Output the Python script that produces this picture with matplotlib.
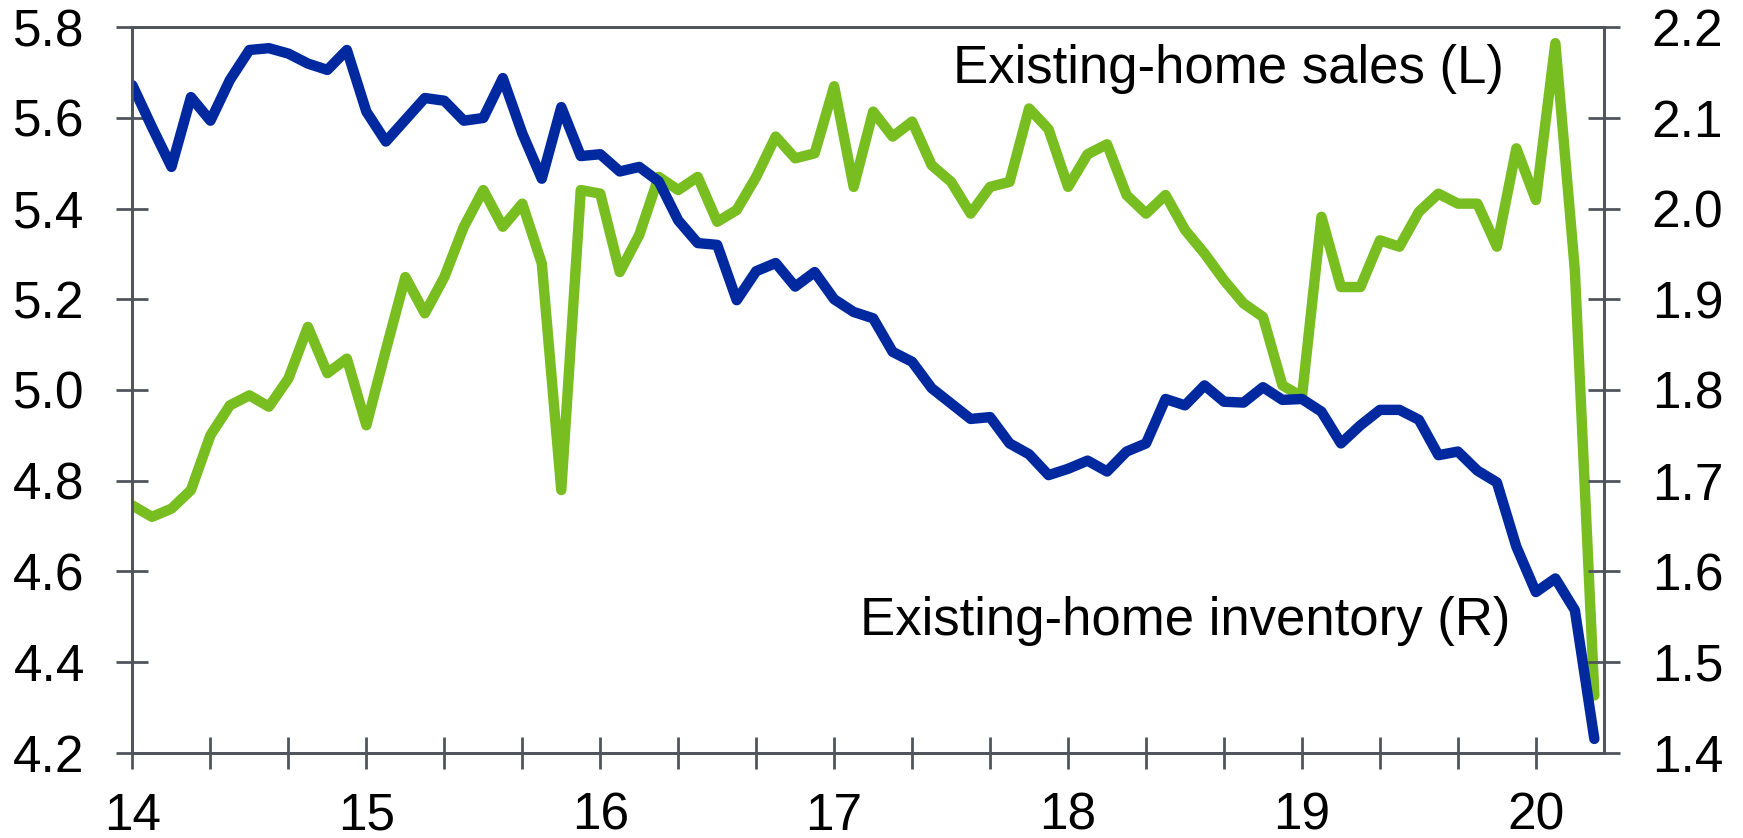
import numpy as np
import matplotlib
matplotlib.use("Agg")
import matplotlib.pyplot as plt

# monthly data, Jan 2014 .. Apr 2020
sales = [4.745, 4.72, 4.738, 4.779, 4.90, 4.966, 4.988, 4.963, 5.025, 5.139, 5.037, 5.069,
         4.922, 5.088, 5.249, 5.169, 5.249, 5.36, 5.441, 5.36, 5.411, 5.279, 4.779, 5.441,
         5.433, 5.26, 5.342, 5.47, 5.441, 5.47, 5.371, 5.397, 5.47, 5.559, 5.511, 5.522,
         5.670, 5.448, 5.614, 5.559, 5.592, 5.496, 5.459, 5.389, 5.448, 5.459, 5.621, 5.575,
         5.448, 5.52, 5.542, 5.43, 5.389, 5.43, 5.353, 5.301, 5.242, 5.191, 5.161, 5.01,
         4.985, 5.382, 5.227, 5.227, 5.33, 5.316, 5.393, 5.433, 5.411, 5.411, 5.316, 5.533,
         5.419, 5.765, 5.264, 4.326]
inventory = [2.136, 2.09, 2.046, 2.123, 2.097, 2.142, 2.175, 2.177, 2.171, 2.160, 2.153, 2.175,
             2.107, 2.074, 2.098, 2.122, 2.119, 2.097, 2.100, 2.144, 2.083, 2.033, 2.112, 2.058,
             2.060, 2.041, 2.046, 2.030, 1.987, 1.962, 1.960, 1.899, 1.931, 1.940, 1.914, 1.930,
             1.900, 1.886, 1.879, 1.842, 1.831, 1.802, 1.785, 1.768, 1.770, 1.741, 1.729, 1.706,
             1.713, 1.722, 1.710, 1.732, 1.741, 1.790, 1.783, 1.805, 1.787, 1.786, 1.803, 1.789,
             1.790, 1.776, 1.741, 1.761, 1.778, 1.778, 1.767, 1.728, 1.732, 1.711, 1.698, 1.627,
             1.577, 1.592, 1.557, 1.415]
year_labels = ['14', '15', '16', '17', '18', '19', '20']
left_ticks = [4.2, 4.4, 4.6, 4.8, 5.0, 5.2, 5.4, 5.6, 5.8]
right_ticks = [1.4, 1.5, 1.6, 1.7, 1.8, 1.9, 2.0, 2.1, 2.2]

GREEN = '#78be21'
BLUE = '#0029a0'
AXCOL = '#50555b'

plt.rcParams['font.family'] = ['Liberation Sans', 'DejaVu Sans']
plt.rcParams['font.size'] = 37

months = np.arange(len(sales))

fig = plt.figure(figsize=(17.43, 8.38), dpi=100)
ax = fig.add_axes([0.0760, 0.102, 0.8443, 0.8654])
ax2 = ax.twinx()

ax.plot(months, sales, color=GREEN, lw=7.5, solid_joinstyle='round', solid_capstyle='round')
ax2.plot(months, inventory, color=BLUE, lw=7.5, solid_joinstyle='round', solid_capstyle='round')

ax.set_xlim(0, 75.5)
ax.set_ylim(4.2, 5.8)
ax2.set_ylim(1.4, 2.2)

ax.set_yticks(left_ticks)
ax.set_yticklabels([f'{v:.1f}' for v in left_ticks])
ax2.set_yticks(right_ticks)
ax2.set_yticklabels([f'{v:.1f}' for v in right_ticks])

xt = np.arange(0, 76, 4)
ax.set_xticks(xt)
ax.set_xticklabels([year_labels[t // 12] if t % 12 == 0 else '' for t in xt])

for a in (ax, ax2):
    for s in a.spines.values():
        s.set_color(AXCOL)
        s.set_linewidth(2)
    a.tick_params(direction='inout', length=22.7, width=2, color=AXCOL, labelcolor='black')
ax.tick_params(axis='y', pad=23)
ax2.tick_params(axis='y', pad=23)
ax.tick_params(axis='x', pad=17)

ax.text(0.932, 0.9228, 'Existing-home sales (L)', transform=ax.transAxes,
        ha='right', va='baseline', fontsize=38)
ax.text(0.936, 0.162, 'Existing-home inventory (R)', transform=ax.transAxes,
        ha='right', va='baseline', fontsize=38)

fig.savefig('out.png', dpi=100)
